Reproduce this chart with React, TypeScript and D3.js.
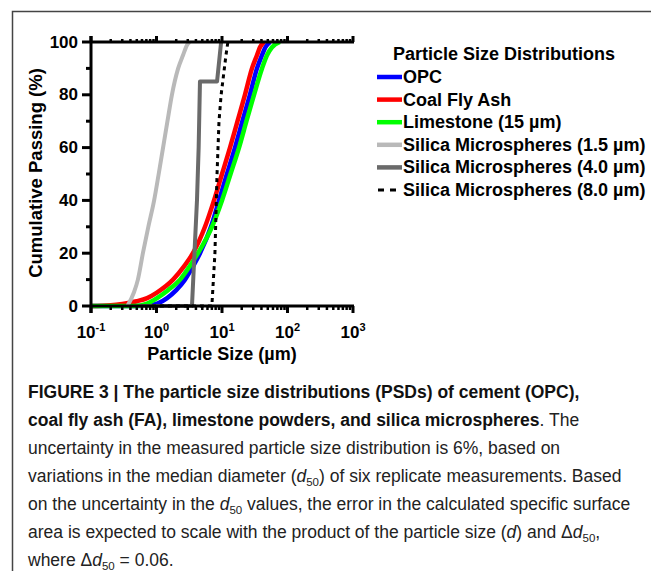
import * as d3 from "d3";

const WIDTH = 651;
const HEIGHT = 571;

// particle size (µm) / cumulative passing (%)
const opcSize = [0.1, 0.5, 0.8, 1.05, 1.45, 2.0, 2.72, 3.6, 4.61, 6.79, 9.0, 11.9, 15.8, 20.5, 26.7, 34.2, 40.8, 46, 54];
const opcPass = [0, 0, 0.3, 1, 3, 6, 10, 15, 20, 30, 40, 50, 60, 70, 80, 90, 95, 98, 100];

const flyAshSize = [0.1, 0.2, 0.3, 0.5, 0.72, 1.0, 1.79, 2.63, 3.6, 5.5, 7.55, 10.0, 13.25, 17.25, 22.4, 28.7, 34.2, 38, 43.7];
const flyAshPass = [0, 0.3, 0.8, 1.8, 3, 5, 10, 15, 20, 30, 40, 50, 60, 70, 80, 90, 95, 98, 100];

const limestoneSize = [0.1, 0.47, 0.7, 1.02, 1.5, 2.29, 3.2, 4.3, 7.03, 10.0, 13.5, 18.2, 23.6, 30.8, 40.8, 48.6, 58, 76.7];
const limestonePass = [0, 0, 0.8, 3, 6, 10, 15, 20, 30, 40, 50, 60, 70, 80, 90, 95, 98, 100];

const silica15Size = [0.36, 0.45, 0.52, 0.62, 0.75, 0.92, 1.08, 1.26, 1.47, 1.72, 2.14, 2.54, 2.95, 3.2];
const silica15Pass = [0, 5, 10, 20, 30, 40, 50, 60, 70, 80, 90, 95, 99, 100];

const silica40Size = [0.56, 3.48, 3.8, 4.15, 4.4, 4.61, 8.4, 9.7];
const silica40Pass = [0, 0, 20, 40, 60, 85, 85, 100];

const silica80Size = [0.85, 7.0, 7.8, 8.4, 9.0, 9.7, 11.5, 12.3];
const silica80Pass = [0, 0, 20, 50, 70, 80, 95, 100];

const yTicks = [0, 20, 40, 60, 80, 100];
const yMinorTicks = [10, 30, 50, 70, 90];
const xDecades = [0.1, 1, 10, 100, 1000];
const xExponents = ["-1", "0", "1", "2", "3"];

const legendTitle = "Particle Size Distributions";

type Series = {
  name: string;
  size: number[];
  pass: number[];
  color: string;
  width: number;
  dash?: string;
  smooth: boolean;
};

const series: Series[] = [
  { name: "OPC", size: opcSize, pass: opcPass, color: "#0000ff", width: 4.5, smooth: true },
  { name: "Coal Fly Ash", size: flyAshSize, pass: flyAshPass, color: "#ff0000", width: 4.5, smooth: true },
  { name: "Limestone (15 µm)", size: limestoneSize, pass: limestonePass, color: "#00ff00", width: 4.5, smooth: true },
  { name: "Silica Microspheres (1.5 µm)", size: silica15Size, pass: silica15Pass, color: "#b9b9b9", width: 4, smooth: true },
  { name: "Silica Microspheres (4.0 µm)", size: silica40Size, pass: silica40Pass, color: "#6a6a6a", width: 4, smooth: false },
  { name: "Silica Microspheres (8.0 µm)", size: silica80Size, pass: silica80Pass, color: "#000000", width: 3, dash: "4,4", smooth: false },
];

const CHART_FONT = "'Liberation Sans', Arial, sans-serif";

export default function App() {
  const xScale = d3.scaleLog().domain([0.1, 1000]).range([91, 353]);
  const yScale = d3.scaleLinear().domain([0, 100]).range([306, 42]);

  const minorX: number[] = [];
  xDecades.slice(0, -1).forEach((dec) => {
    for (let k = 2; k <= 9; k++) minorX.push(dec * k);
  });

  const paths = series.map((s, i) => {
    const pts: [number, number][] = s.size.map((d, j) => [xScale(d), yScale(s.pass[j])]);
    const line = d3
      .line()
      .curve(s.smooth ? d3.curveMonotoneX : d3.curveLinear);
    return (
      <path
        key={i}
        d={line(pts) ?? ""}
        fill="none"
        stroke={s.color}
        strokeWidth={s.width}
        strokeDasharray={s.dash}
        strokeLinejoin="round"
      />
    );
  });

  const [x0, x1] = xScale.range();
  const y0 = yScale(0);
  const yTop = yScale(100);

  const legendX = 377;
  const legendY = 77;
  const legendStep = 22.6;

  const captionX = 28;
  const captionY = 398;
  const captionStep = 28;
  const sub = (t: string) => (
    <tspan fontSize={11.5} dy={3.5}>
      {t}
    </tspan>
  );

  return (
    <svg
      width={WIDTH}
      height={HEIGHT}
      style={{ position: "absolute", left: 0, top: 0, background: "#fff" }}
    >
      {/* frame */}
      <path d={`M12.5,${HEIGHT} V11.5 H${WIDTH}`} fill="none" stroke="#444" strokeWidth={1.5} />

      {/* curves */}
      <g>{paths}</g>

      {/* axes */}
      <g stroke="#000" strokeWidth={3} fill="none">
        <line x1={x0} x2={x0} y1={yTop - 6} y2={y0 + 7} />
        <line x1={x0} x2={x1 + 1} y1={y0} y2={y0} />
        <line x1={x0} x2={x1 + 1} y1={yTop} y2={yTop} />
        {yTicks.map((t) => (
          <line key={"ym" + t} x1={x0 - 9} x2={x0} y1={yScale(t)} y2={yScale(t)} />
        ))}
        {yMinorTicks.map((t) => (
          <line key={"yn" + t} x1={x0 - 5} x2={x0} y1={yScale(t)} y2={yScale(t)} />
        ))}
        {xDecades.map((t) => (
          <g key={"xm" + t}>
            <line x1={xScale(t)} x2={xScale(t)} y1={y0} y2={y0 + 7} />
            <line x1={xScale(t)} x2={xScale(t)} y1={yTop} y2={yTop - 6} />
          </g>
        ))}
        {minorX.map((t) => (
          <g key={"xn" + t} strokeWidth={2.5}>
            <line x1={xScale(t)} x2={xScale(t)} y1={y0} y2={y0 + 4} />
            <line x1={xScale(t)} x2={xScale(t)} y1={yTop} y2={yTop - 3} />
          </g>
        ))}
      </g>

      {/* tick labels */}
      <g fontFamily={CHART_FONT} fontWeight="bold" fontSize={17} fill="#000">
        {yTicks.map((t) => (
          <text key={"yl" + t} x={x0 - 13} y={yScale(t)} textAnchor="end" dominantBaseline="central">
            {t}
          </text>
        ))}
        {xDecades.map((t, i) => (
          <text key={"xl" + t} x={xScale(t)} y={338} textAnchor="middle">
            10
            <tspan fontSize={11} dy={-7}>
              {xExponents[i]}
            </tspan>
          </text>
        ))}
        <text x={(x0 + x1) / 2} y={360} textAnchor="middle" fontSize={18}>
          Particle Size (µm)
        </text>
        <text
          transform={`translate(42,173) rotate(-90)`}
          textAnchor="middle"
          fontSize={18.5}
        >
          Cumulative Passing (%)
        </text>
      </g>

      {/* legend */}
      <g fontFamily={CHART_FONT} fontWeight="bold" fontSize={18} fill="#000">
        <text x={393} y={legendY - legendStep} dominantBaseline="central">
          {legendTitle}
        </text>
        {series.map((s, i) => {
          const y = legendY + i * legendStep;
          return (
            <g key={"lg" + i}>
              {s.dash ? (
                <line x1={legendX + 1} x2={legendX + 20} y1={y} y2={y} stroke="#000" strokeWidth={3} strokeDasharray="6,6" />
              ) : (
                <line x1={legendX} x2={legendX + 25} y1={y} y2={y} stroke={s.color} strokeWidth={4.5} />
              )}
              <text x={legendX + 26} y={y} dominantBaseline="central">
                {s.name}
              </text>
            </g>
          );
        })}
      </g>

      {/* caption */}
      <g fontFamily={CHART_FONT} fontSize={17.5} fill="#222">
        <text x={captionX} y={captionY} fontWeight="bold" fill="#111">
          FIGURE 3 | The particle size distributions (PSDs) of cement (OPC),
        </text>
        <text x={captionX} y={captionY + captionStep}>
          <tspan fontWeight="bold" fill="#111">coal fly ash (FA), limestone powders, and silica microspheres</tspan>. The
        </text>
        <text x={captionX} y={captionY + captionStep * 2}>
          uncertainty in the measured particle size distribution is 6%, based on
        </text>
        <text x={captionX} y={captionY + captionStep * 3}>
          variations in the median diameter (<tspan fontStyle="italic">d</tspan>
          {sub("50")}
          <tspan dy={-3.5}>) of six replicate measurements. Based</tspan>
        </text>
        <text x={captionX} y={captionY + captionStep * 4}>
          on the uncertainty in the <tspan fontStyle="italic">d</tspan>
          {sub("50")}
          <tspan dy={-3.5}> values, the error in the calculated specific surface</tspan>
        </text>
        <text x={captionX} y={captionY + captionStep * 5}>
          area is expected to scale with the product of the particle size (<tspan fontStyle="italic">d</tspan>) and Δ
          <tspan fontStyle="italic">d</tspan>
          {sub("50")}
          <tspan dy={-3.5}>,</tspan>
        </text>
        <text x={captionX} y={captionY + captionStep * 6}>
          where Δ<tspan fontStyle="italic">d</tspan>
          {sub("50")}
          <tspan dy={-3.5}> = 0.06.</tspan>
        </text>
      </g>
    </svg>
  );
}
